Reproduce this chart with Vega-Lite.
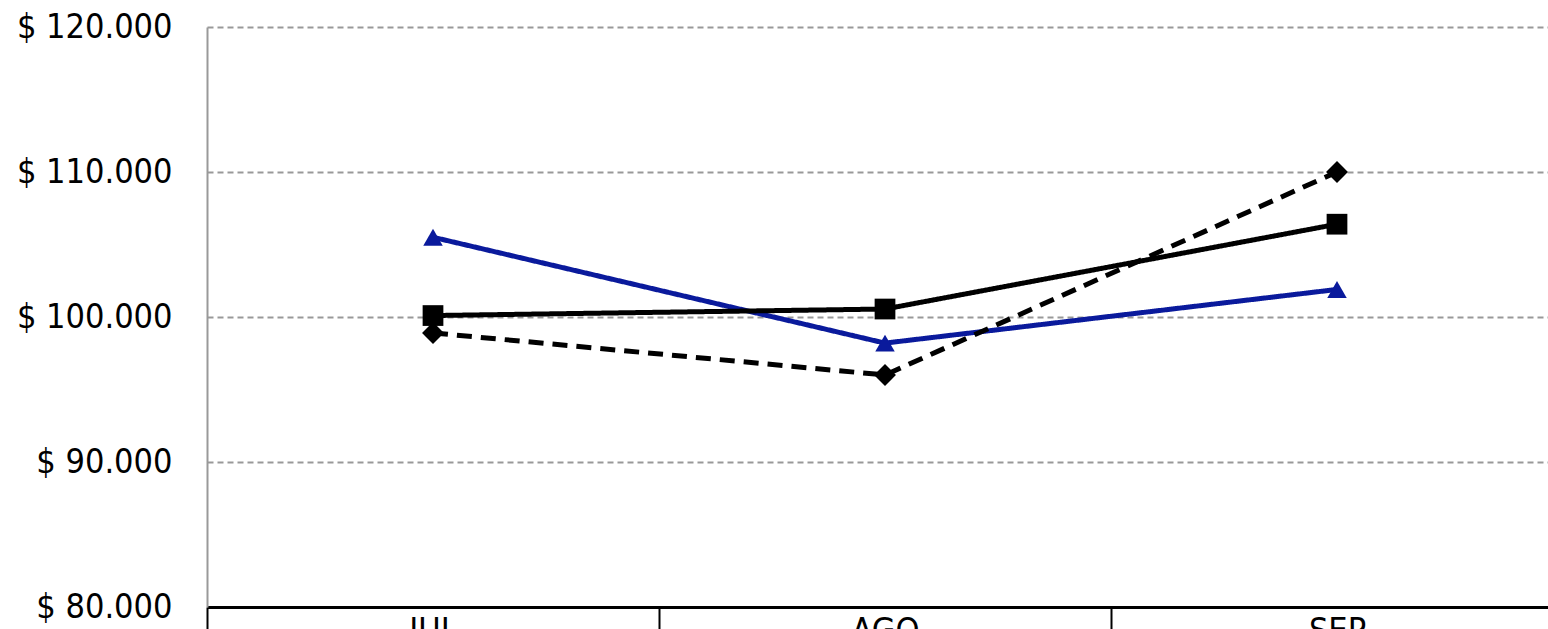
{
  "$schema": "https://vega.github.io/schema/vega-lite/v6.json",
  "width": 1356,
  "height": 580,
  "autosize": {"type": "none"},
  "padding": {"left": 207, "top": 27, "right": 0, "bottom": 22},
  "background": "white",
  "config": {"view": {"stroke": null}, "font": "DejaVu Sans Condensed"},
  "data": {"values": [
    {"mes": "JUL", "serie": "A", "valor": 105500},
    {"mes": "AGO", "serie": "A", "valor": 98200},
    {"mes": "SEP", "serie": "A", "valor": 101900},
    {"mes": "JUL", "serie": "B", "valor": 100100},
    {"mes": "AGO", "serie": "B", "valor": 100550},
    {"mes": "SEP", "serie": "B", "valor": 106400},
    {"mes": "JUL", "serie": "C", "valor": 98900},
    {"mes": "AGO", "serie": "C", "valor": 96000},
    {"mes": "SEP", "serie": "C", "valor": 110000}
  ]},
  "encoding": {
    "x": {"field": "mes", "type": "nominal", "sort": ["JUL", "AGO", "SEP"],
      "scale": {"paddingInner": 0, "paddingOuter": 0},
      "axis": {"title": null, "labelAngle": 0, "domainColor": "#000", "domainWidth": 3,
        "tickBand": "extent", "tickColor": "#000", "tickWidth": 2, "tickSize": 30,
        "labelPadding": -23, "labelFontSize": 34, "labelColor": "#000", "labelBaseline": "top"}},
    "y": {"field": "valor", "type": "quantitative",
      "scale": {"domain": [80000, 120000], "nice": false, "zero": false},
      "axis": {"title": null, "values": [80000, 90000, 100000, 110000, 120000],
        "labelExpr": "'$ ' + replace(format(datum.value, ',d'), ',', '.')",
        "labelFontSize": 34, "labelColor": "#000", "labelPadding": 35, "ticks": false,
        "domainColor": "#999", "domainWidth": 2,
        "grid": true, "gridColor": "#999", "gridDash": [6, 4], "gridWidth": 2}},
    "color": {"field": "serie", "type": "nominal",
      "scale": {"domain": ["A", "B", "C"], "range": ["#0A1A9C", "#000000", "#000000"]}, "legend": null}
  },
  "layer": [
    {"mark": {"type": "line", "strokeWidth": 5},
      "encoding": {"strokeDash": {"field": "serie", "type": "nominal",
        "scale": {"domain": ["A", "B", "C"], "range": [[1, 0], [1, 0], [15, 9]]}, "legend": null}}},
    {"mark": {"type": "point", "filled": true, "opacity": 1},
      "encoding": {
        "shape": {"field": "serie", "type": "nominal",
          "scale": {"domain": ["A", "B", "C"], "range": ["triangle-up", "square", "diamond"]}, "legend": null},
        "size": {"field": "serie", "type": "nominal",
          "scale": {"domain": ["A", "B", "C"], "range": [380, 480, 260]}, "legend": null}}}
  ]
}
